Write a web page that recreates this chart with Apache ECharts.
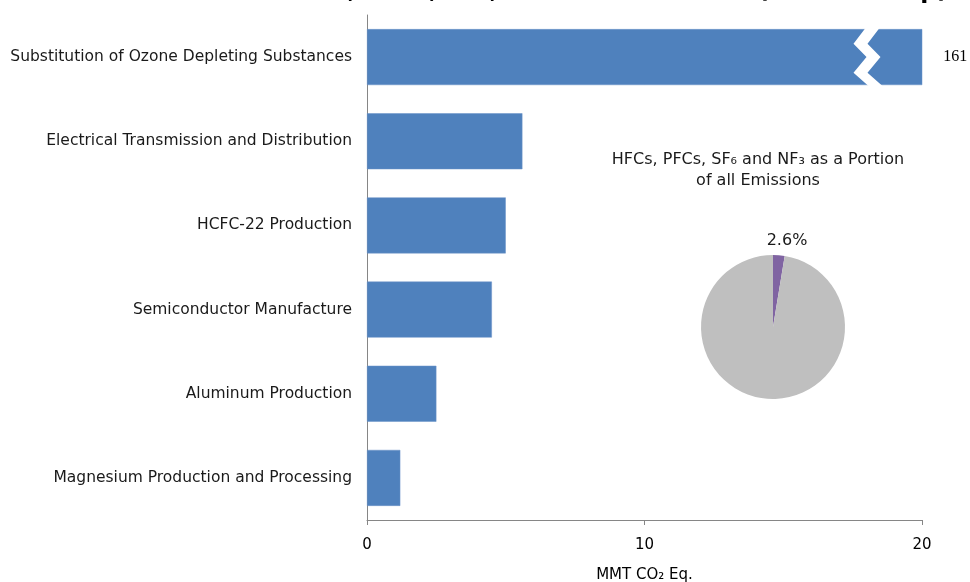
<!DOCTYPE html>
<html>
<head>
<meta charset="utf-8">
<script src="https://cdn.jsdelivr.net/npm/echarts@6/dist/echarts.min.js"></script>
<style>html,body{margin:0;padding:0;background:#fff}#c{width:970px;height:582px}</style>
</head>
<body>
<div id="c"></div>
<script>
const categories = ['Substitution of Ozone Depleting Substances','Electrical Transmission and Distribution','HCFC-22 Production','Semiconductor Manufacture','Aluminum Production','Magnesium Production and Processing'];
const values = [161, 5.6, 5.0, 4.5, 2.5, 1.2];
const labelledIndex = 0;
const xTicks = [0, 10, 20];
const pieNames = ['HFCs, PFCs, SF\u2086 and NF\u2083', 'All other emissions'];
const pieValues = [2.6, 97.4];
const breakValue = 18;

const titleText = 'HFCs, PFCs, SF\u2086, and NF\u2083 Emissions (MMT CO\u2082 Eq.)';
const pieTitle = 'HFCs, PFCs, SF\u2086 and NF\u2083 as a Portion\nof all Emissions';

const chart = echarts.init(document.getElementById('c'), null, {renderer: 'canvas'});
const font = '"DejaVu Sans", Verdana, sans-serif';

chart.setOption({
  animation: false,
  backgroundColor: '#ffffff',
  textStyle: {fontFamily: font},
  grid: {left: 367, right: 48, top: 15, bottom: 62, containLabel: false, outerBoundsMode: 'none'},
  xAxis: {
    type: 'value', min: xTicks[0], max: xTicks[xTicks.length - 1], interval: xTicks[1] - xTicks[0],
    axisLine: {show: true, lineStyle: {color: '#868686', width: 1}},
    axisTick: {show: true, length: 5, lineStyle: {color: '#868686'}},
    splitLine: {show: false},
    axisLabel: {color: '#000', fontSize: 15, margin: 18, fontFamily: font},
    name: 'MMT CO\u2082 Eq.', nameLocation: 'middle', nameGap: 48,
    nameTextStyle: {color: '#000', fontSize: 15, fontFamily: font}
  },
  yAxis: {
    type: 'category', data: categories, inverse: true,
    axisLine: {show: true, lineStyle: {color: '#868686', width: 1}},
    axisTick: {show: false},
    axisLabel: {color: '#1a1a1a', fontSize: 15.5, margin: 15, fontFamily: font}
  },
  series: [{
    type: 'bar',
    clip: true,
    barCategoryGap: '33.5%',
    itemStyle: {color: '#4F81BD', borderColor: '#6A93C8', borderWidth: 0.5},
    data: values.map((v, i) => i === labelledIndex ? {
      value: v,
      label: {show: true, position: 'right', distance: 21, formatter: String(v),
              fontFamily: '"Liberation Serif", serif', fontSize: 16, color: '#000'}
    } : v)
  }, {
    type: 'pie',
    center: [773, 327],
    radius: 72,
    startAngle: 90,
    clockwise: true,
    silent: true,
    data: pieNames.map((n, i) => ({
      name: n, value: pieValues[i],
      itemStyle: {color: i === 0 ? '#8064A2' : '#BFBFBF'},
      label: i === 0 ? {show: true, position: 'outside', formatter: '{c}%', fontSize: 16, color: '#1a1a1a', fontFamily: font} : {show: false},
      labelLine: {show: false, length: 14, length2: 0}
    })),
    labelLayout: function (p) { return p.dataIndex === 0 ? {align: 'center', dx: 1} : {}; }
  }],
  graphic: [{
    type: 'text', x: 948, y: 4,
    style: {text: titleText, fontSize: 23.5, fontWeight: 'bold', fontFamily: font, fill: '#000', align: 'right', verticalAlign: 'bottom'}
  }, {
    type: 'text', x: 758, y: 149,
    style: {text: pieTitle, fontSize: 16, fontFamily: font, fill: '#1a1a1a', align: 'center', verticalAlign: 'top', lineHeight: 21}
  }]
});

// break marker on the clipped bar, placed through the chart's own scales
const c0 = chart.convertToPixel({gridIndex: 0}, [breakValue, categories[0]]);
const c1 = chart.convertToPixel({gridIndex: 0}, [breakValue, categories[1]]);
const band = Math.abs(c1[1] - c0[1]);
const half = band * 0.665 / 2;
const yt = c0[1] - half - 1, yb = c0[1] + half + 1;
const h = yb - yt;
const ts = [0, 0.27, 0.5, 0.77, 1];
const offs = [-1, -13, 0, -13, 2];
const gap = 14;
const pts = [];
ts.forEach((t, i) => pts.push([c0[0] + offs[i], yt + t * h]));
for (let i = ts.length - 1; i >= 0; i--) pts.push([c0[0] + offs[i] + gap, yt + ts[i] * h]);
chart.setOption({
  graphic: [{}, {}, {type: 'polygon', shape: {points: pts}, style: {fill: '#ffffff'}, z: 100}]
});
</script>
</body>
</html>
